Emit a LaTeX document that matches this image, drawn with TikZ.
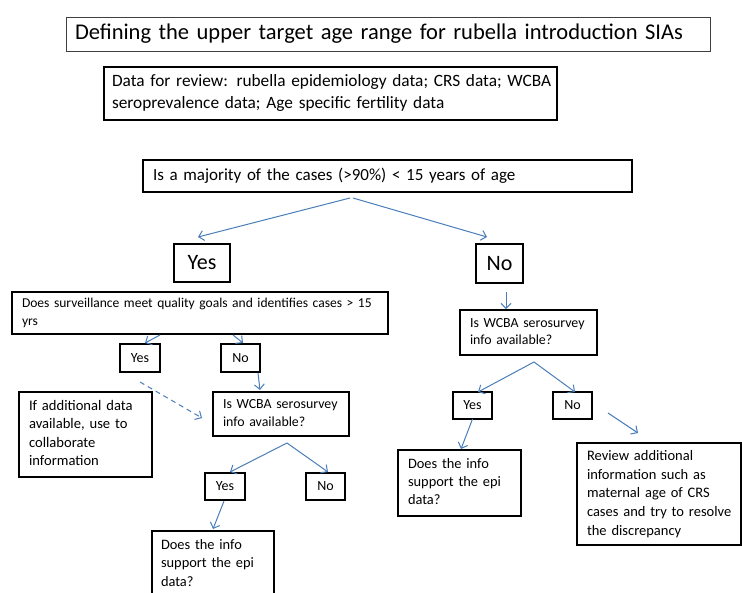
\documentclass[tikz,border=0pt]{standalone}
\usepackage{fontspec}
\setmainfont{Carlito}
\usetikzlibrary{arrows.meta}
\definecolor{linkblue}{RGB}{74,126,187}
\newcommand{\fs}[2]{\fontsize{#1}{#2}\selectfont}
% set lines exactly as given, left aligned, never re-broken
\newcommand{\lines}[1]{\begin{tabular}{@{}l@{}}#1\end{tabular}}

\begin{document}
\begin{tikzpicture}[x=1pt,y=-1pt,
  box/.style={draw=black, line width=2.8pt, anchor=north west, align=left,
    inner ysep=0pt, inner xsep=10pt, outer sep=0pt},
  tag/.style={draw=black, line width=2.8pt, anchor=north west, align=center,
    inner sep=0pt, outer sep=0pt, font=\fs{14}{17}},
  bigtag/.style={tag, font=\fs{22}{26}},
  link/.style={draw=linkblue, line width=1pt, -{Straight Barb[length=5pt,width=10pt]}},
  ]

\useasboundingbox (0,0) rectangle (742,592);
\fill[white] (0,0) rectangle (742,592);

% heading and data summary
\node[box, draw=black!75, line width=0.9pt, inner xsep=9pt, text width=626pt,
  minimum height=34pt, font=\fs{22.5}{27}] (title) at (66,17)
  {\lines{Defining the upper target age range for rubella introduction SIAs}};
\node[box, inner xsep=8pt, text width=437pt, minimum height=53pt, font=\fs{17.3}{22}] (data) at (104,67)
  {\lines{Data for review: rubella epidemiology data; CRS data; WCBA\\seroprevalence data; Age specific fertility data}};

% first question
\node[box, text width=469pt, minimum height=32pt, font=\fs{17}{22}] (q) at (143,160)
  {\lines{Is a majority of the cases (>90\%) < 15 years of age}};
\node[bigtag, minimum width=56pt, minimum height=38pt] (bigyes) at (174,244) {Yes};
\node[bigtag, minimum width=47pt, minimum height=39pt] (bigno) at (476,244) {No};

% left branch
\node[box, text width=356pt, minimum height=42pt, font=\fs{13.55}{18}] (surv) at (12,292)
  {\lines{Does surveillance meet quality goals and identifies cases > 15\\yrs}};
\node[tag, minimum width=40pt, minimum height=28pt] (yes1) at (120,344) {Yes};
\node[tag, minimum width=39pt, minimum height=28pt] (no1) at (221,344) {No};
\node[box, text width=113pt, minimum height=85pt, font=\fs{14.6}{18.5}] (addl) at (19,392)
  {\lines{If additional data\\available, use to\\collaborate\\information}};
\node[box, text width=116pt, minimum height=44pt, font=\fs{13.9}{17.5}] (wcba1) at (213,392)
  {\lines{Is WCBA serosurvey\\info available?}};
\node[tag, minimum width=40pt, minimum height=27pt] (yes2) at (205,473) {Yes};
\node[tag, minimum width=39pt, minimum height=27pt] (no2) at (306,473) {No};
\node[box, inner xsep=9pt, text width=104pt, minimum height=66pt, font=\fs{14.4}{18.5}] (info1) at (152,531)
  {\lines{Does the info\\support the epi\\data?}};

% right branch
\node[box, text width=117pt, minimum height=45pt, font=\fs{13.9}{17.5}] (wcba2) at (460,310)
  {\lines{Is WCBA serosurvey\\info available?}};
\node[tag, minimum width=39pt, minimum height=27pt] (yes3) at (453,392) {Yes};
\node[tag, minimum width=39pt, minimum height=27pt] (no3) at (553,392) {No};
\node[box, text width=103pt, minimum height=66pt, font=\fs{14.4}{18}] (info2) at (398,450)
  {\lines{Does the info\\support the epi\\data?}};
\node[box, text width=144pt, minimum height=102pt, font=\fs{14.5}{18.7}] (review) at (577,443)
  {\lines{Review additional\\information such as\\maternal age of CRS\\cases and try to resolve\\the discrepancy}};

% connectors
\draw[link] ([xshift=-37.5pt,yshift=-6pt]q.south) -- ([xshift=-4pt,yshift=7pt]bigyes.north);
\draw[link] ([xshift=-34.5pt,yshift=-6pt]q.south) -- ([xshift=-12.5pt,yshift=7pt]bigno.north);
\draw[link] ([xshift=-40pt,yshift=-1pt]surv.south) -- ([xshift=5pt,yshift=1pt]yes1.north);
\draw[link] ([xshift=33pt,yshift=-1pt]surv.south) -- ([xshift=2.5pt,yshift=1pt]no1.north);
\draw[link] ([xshift=17.5pt,yshift=-1pt]no1.south) -- ([xshift=-21pt,yshift=2pt]wcba1.north);
\draw[link, dash pattern=on 5pt off 4pt] ([yshift=-10pt]yes1.south) -- ([xshift=-11pt,yshift=-4pt]wcba1.west);
\draw[link] ([xshift=6pt,yshift=-7pt]wcba1.south) -- ([xshift=5pt,yshift=1pt]yes2.north);
\draw[link] ([xshift=6pt,yshift=-7pt]wcba1.south) -- ([xshift=2.5pt,yshift=1pt]no2.north);
\draw[link] ([xshift=-1pt,yshift=-1pt]yes2.south) -- ([yshift=2pt]info1.north);
\draw[link] ([xshift=6.5pt,yshift=-9pt]bigno.south) -- ([xshift=-22.5pt,yshift=1pt]wcba2.north);
\draw[link] ([xshift=5.5pt,yshift=-7pt]wcba2.south) -- ([xshift=5.5pt]yes3.north);
\draw[link] ([xshift=5.5pt,yshift=-7pt]wcba2.south) -- ([xshift=2.5pt]no3.north);
\draw[link] (yes3.south) -- ([xshift=1.5pt,yshift=1pt]info2.north);
\draw[link] ([xshift=16pt,yshift=6pt]no3.south east) -- ([xshift=-21pt,yshift=10pt]review.north);
\end{tikzpicture}
\end{document}
